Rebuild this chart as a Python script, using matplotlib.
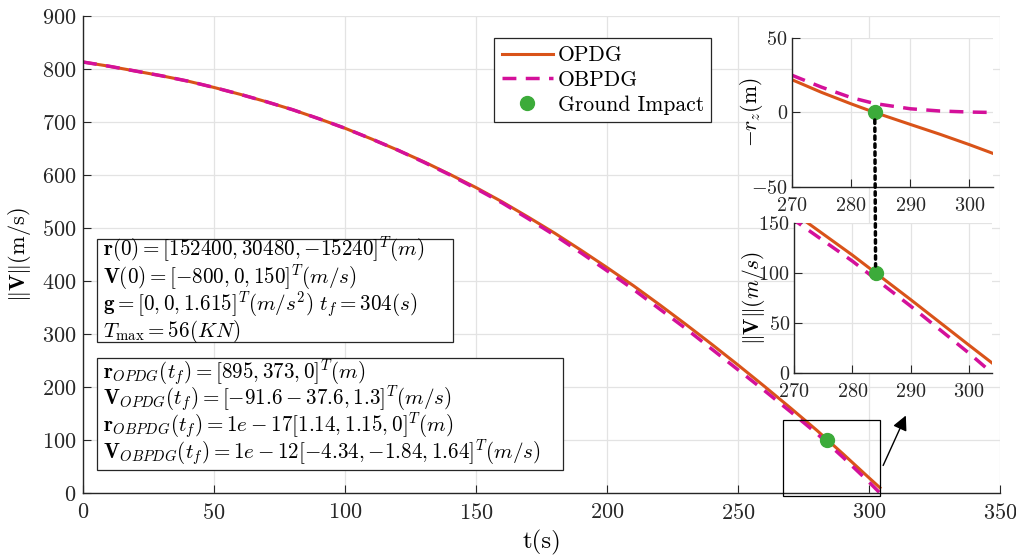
import matplotlib
matplotlib.use("Agg")
import matplotlib.pyplot as plt
from matplotlib.patches import Rectangle, ConnectionPatch

plt.rcParams.update({
    'font.family': 'cmr10',
    'mathtext.fontset': 'cm',
    'axes.unicode_minus': False,
    'axes.formatter.use_mathtext': True,
    'font.size': 15,
})

# speed profiles ||V|| (m/s) vs time (s)
t = [0, 10, 20, 30, 40, 50, 60, 70, 80, 90, 100, 110, 120, 130, 140, 150,
     160, 170, 180, 190, 200, 210, 220, 230, 240, 250, 260, 270, 280, 290, 300, 304]
v_opdg = [813, 805, 796, 787, 777, 765, 752, 738, 723, 706, 688, 668, 647, 625, 601, 576,
          549, 520, 490, 458, 425, 391, 355, 318, 280, 241, 201, 160, 118, 73.5, 28, 10]
v_obpdg = [813, 805, 796, 787, 777, 765, 752, 738, 723, 706, 688, 668, 647, 624, 600, 574,
           547, 517, 486, 453, 419, 384, 347, 310, 271, 232, 193, 153, 112, 67, 20, 0]

# altitude near touchdown, -r_z (m)
t_z = [270, 275, 280, 284, 290, 295, 300, 304]
rz_opdg = [22, 13.5, 5.8, 0, -8, -14.6, -21.6, -27.5]
rz_obpdg = [25, 17, 10, 6, 2.5, 1, 0.3, 0]

# ground impact of OPDG
t_imp = 284
v_imp = 100
rz_imp = 0

box1 = [r"$\mathbf{r}(0)=[152400,30480,{-}15240]^T(m)$",
        r"$\mathbf{V}(0)=[-800,0,150]^T(m/s)$",
        r"$\mathbf{g}=[0,0,1.615]^T(m/s^2)\ t_f=304(s)$",
        r"$T_{\max}=56(KN)$"]
box2 = [r"$\mathbf{r}_{OPDG}(t_f)=[895,373,0]^T(m)$",
        r"$\mathbf{V}_{OPDG}(t_f)=[-91.6-37.6,1.3]^T(m/s)$",
        r"$\mathbf{r}_{OBPDG}(t_f)=1e-17[1.14,1.15,0]^T(m)$",
        r"$\mathbf{V}_{OBPDG}(t_f)=1e-12[{-}4.34,{-}1.84,1.64]^T(m/s)$"]

c_opdg = '#D95319'
c_obpdg = '#D4109A'
c_imp = '#3CAB3A'
c_axis = '#262626'
c_grid = '#E3E3E3'

W, H = 1016, 558


def style_axes(ax, size):
    for s in ['top', 'right']:
        ax.spines[s].set_visible(False)
    for s in ['left', 'bottom']:
        ax.spines[s].set_color(c_axis)
        ax.spines[s].set_linewidth(1.0)
    ax.tick_params(direction='in', length=6, width=0.8, colors=c_axis, pad=5, labelsize=size)
    ax.grid(True, color=c_grid, linewidth=0.9)
    ax.set_axisbelow(True)


def text_box(x0, y0, x1, y1, lines, baselines):
    # boxed block of equations, positions in pixels from the top-left
    fig.add_artist(Rectangle((x0 / W, 1 - y1 / H), (x1 - x0) / W, (y1 - y0) / H,
                             transform=fig.transFigure, facecolor='white', edgecolor=c_axis, lw=0.9))
    for s, b in zip(lines, baselines):
        fig.text((x0 + 6) / W, 1 - b / H, s, fontsize=15.2, va='baseline', ha='left')


fig = plt.figure(figsize=(W / 100, H / 100), dpi=100)
ax = fig.add_axes([0.0817, 0.1165, 0.903, 0.855])
style_axes(ax, 16)
ax.plot(t, v_opdg, color=c_opdg, lw=2.2, label='OPDG')
ax.plot(t, v_obpdg, color=c_obpdg, lw=2.5, dashes=(4, 2.7), label='OBPDG')
ax.plot([t_imp], [v_imp], 'o', color=c_imp, ms=10, ls='none', label='Ground Impact')
ax.set_xlim(0, 350)
ax.set_ylim(0, 900)
ax.set_xticks(range(0, 351, 50))
ax.set_yticks(range(0, 901, 100))
ax.tick_params(axis='x', pad=7)
ax.set_xlabel('t(s)', fontsize=18, labelpad=5)
ax.set_ylabel(r'$\|\mathbf{V}\|$(m/s)', fontsize=16, labelpad=6)

ax.add_patch(Rectangle((267, -5), 37, 143, fill=False, edgecolor='k', lw=0.9, clip_on=False, zorder=5))

leg = ax.legend(loc='upper left', bbox_to_anchor=(494 / W, 1 - 38 / H), bbox_transform=fig.transFigure,
                fontsize=15.5, handlelength=2.4, borderaxespad=0, fancybox=False, framealpha=1,
                labelspacing=0.25, borderpad=0.35, handletextpad=0.2)
leg.get_frame().set_edgecolor(c_axis)
leg.get_frame().set_linewidth(0.9)

text_box(97, 239, 453, 342, box1, [256, 284, 311, 337])
text_box(97, 358, 563, 470, box2, [379, 405, 432, 459])

ax.annotate('', xy=(907 / W, 1 - 413 / H), xytext=(882 / W, 1 - 468 / H), xycoords='figure fraction',
            arrowprops=dict(arrowstyle='-|>', color='k', lw=1, mutation_scale=22))

# zoomed altitude
ax1 = fig.add_axes([0.7795, 0.6649, 0.198, 0.267])
style_axes(ax1, 14.5)
ax1.plot(t_z, rz_opdg, color=c_opdg, lw=2.2)
ax1.plot(t_z, rz_obpdg, color=c_obpdg, lw=2.5, dashes=(4, 2.7))
ax1.plot([t_imp], [rz_imp], 'o', color=c_imp, ms=10, zorder=6)
ax1.set_xlim(270, 304)
ax1.set_ylim(-50, 50)
ax1.set_xticks([270, 280, 290, 300])
ax1.set_yticks([-50, 0, 50])
ax1.tick_params(axis='y', pad=3)
ax1.tick_params(axis='x', pad=7)
ax1.set_ylabel(r'$-r_z$(m)', fontsize=15.5)
ax1.yaxis.set_label_coords(-0.134, 0.5)

# zoomed speed
ax2 = fig.add_axes([0.7815, 0.3315, 0.195, 0.2688])
style_axes(ax2, 14.5)
ax2.plot(t, v_opdg, color=c_opdg, lw=2.2)
ax2.plot(t, v_obpdg, color=c_obpdg, lw=2.5, dashes=(4, 2.7))
ax2.plot([t_imp], [v_imp], 'o', color=c_imp, ms=10, zorder=6)
ax2.set_xlim(270, 304)
ax2.set_ylim(0, 150)
ax2.set_xticks([270, 280, 290, 300])
ax2.set_yticks([0, 50, 100, 150])
ax2.tick_params(axis='y', pad=3)
ax2.tick_params(axis='x', pad=7)
ax2.set_ylabel(r'$\|\mathbf{V}\|(m/s)$', fontsize=15.5)
ax2.yaxis.set_label_coords(-0.136, 0.5)

con = ConnectionPatch(xyA=(t_imp, -5), coordsA=ax1.transData, xyB=(t_imp, 107), coordsB=ax2.transData,
                      color='k', lw=2.5, ls=(0, (1, 1.3)))
fig.add_artist(con)

fig.savefig('out.png', dpi=100)
